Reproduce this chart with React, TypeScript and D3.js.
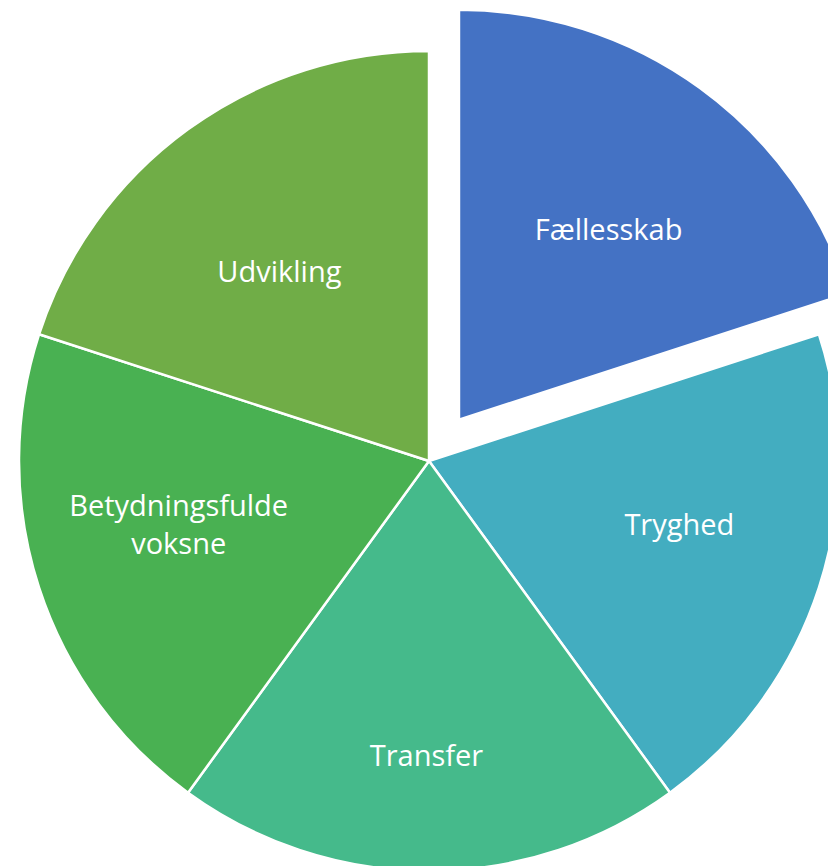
import React from "react";
import * as d3 from "d3";

const categories = ["Fællesskab", "Tryghed", "Transfer", "Betydningsfulde voksne", "Udvikling"];
const values = [1, 1, 1, 1, 1];
const colors = ["#4472C4", "#43ADC0", "#45BA8B", "#49B152", "#70AD47"];
const explode = [1, 0, 0, 0, 0];

const W = 828;
const H = 866;
const cx = 429;
const cy = 461;
const R = 410;
const explodeDist = 51;
const labelR = [243, 258, 293, 258, 243];
const labelShiftDeg = [2, -4, 0.5, 4, -2];

export default function App() {
  const pie = d3.pie<number>().sort(null).value((d) => d)(values);
  const arc = d3.arc<d3.PieArcDatum<number>>().innerRadius(0).outerRadius(R);
  return (
    <svg width={W} height={H} style={{ position: "absolute", left: 0, top: 0 }}>
      <rect width={W} height={H} fill="#fff" />
      {pie.map((p, i) => {
        const mid = (p.startAngle + p.endAngle) / 2;
        const off = explode[i] ? explodeDist : 0;
        const ox = Math.sin(mid) * off;
        const oy = -Math.cos(mid) * off;
        const la = mid + (labelShiftDeg[i] * Math.PI) / 180;
        const lx = Math.sin(la) * labelR[i];
        const ly = -Math.cos(la) * labelR[i];
        const words = categories[i].split(" ");
        const lines = categories[i].length > 14 ? words : [categories[i]];
        const lh = 38;
        return (
          <g key={i} transform={`translate(${cx + ox},${cy + oy})`}>
            <path d={arc(p) || ""} fill={colors[i]} stroke="#fff" strokeWidth={2.5} strokeLinejoin="round" />
            <text
              x={lx}
              y={ly - ((lines.length - 1) * lh) / 2}
              textAnchor="middle"
              dominantBaseline="central"
              fill="#fff"
              fontFamily="'Open Sans', sans-serif"
              fontSize={29}
            >
              {lines.map((l, j) => (
                <tspan key={j} x={lx} dy={j === 0 ? 0 : lh}>
                  {l}
                </tspan>
              ))}
            </text>
          </g>
        );
      })}
    </svg>
  );
}
